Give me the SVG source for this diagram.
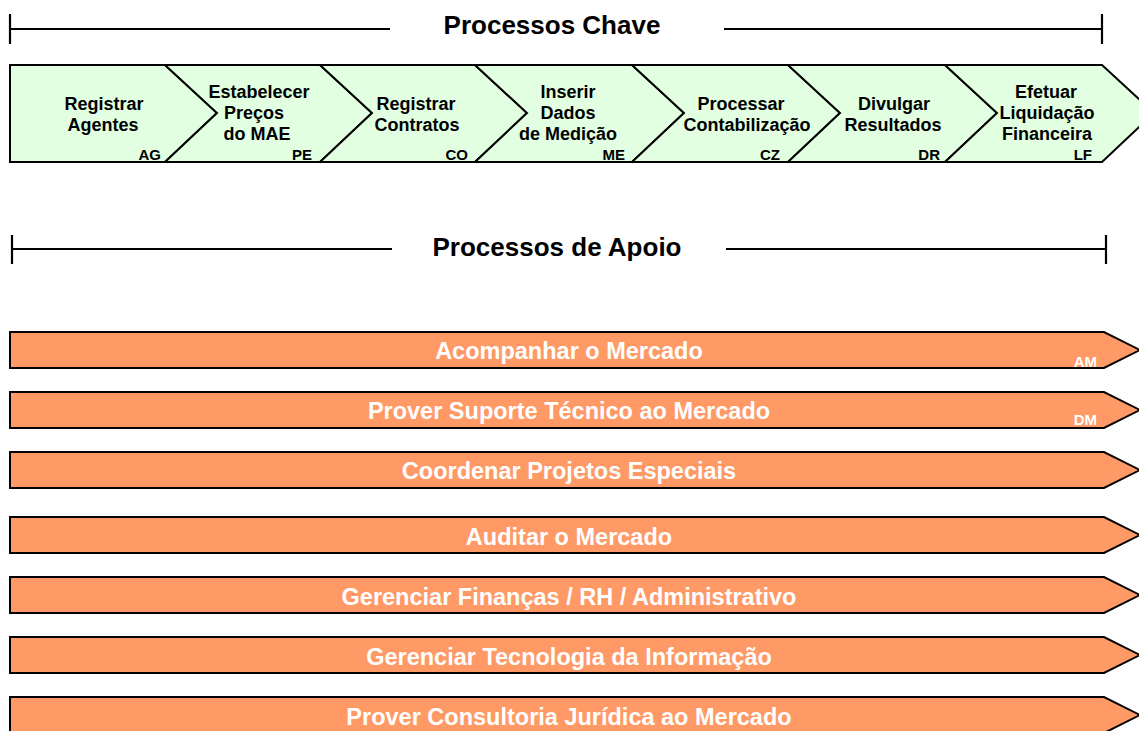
<svg xmlns="http://www.w3.org/2000/svg" width="1139" height="731" viewBox="0 0 1139 731">
<style>
.ln{stroke:#000;stroke-width:2.2;fill:none}
.title{font-family:"Liberation Sans",Arial,sans-serif;font-weight:bold;font-size:26px;fill:#000;text-anchor:middle}
.chev{fill:#E2FFE2;stroke:#000;stroke-width:2;stroke-linejoin:miter}
.ct{font-family:"Liberation Sans",Arial,sans-serif;font-weight:bold;font-size:18px;fill:#000;text-anchor:middle}
.code{font-family:"Liberation Sans",Arial,sans-serif;font-weight:bold;font-size:15px;fill:#000;text-anchor:end}
.bar{fill:#FF9966;stroke:#000;stroke-width:2}
.bt{font-family:"Liberation Sans",Arial,sans-serif;font-weight:bold;font-size:23.5px;fill:#fff;text-anchor:middle}
.bc{font-family:"Liberation Sans",Arial,sans-serif;font-weight:bold;font-size:15px;fill:#fff;text-anchor:end}
</style>
<rect width="1139" height="731" fill="#fff"/>
<g id="header-chave">
<path class="ln" d="M10,29 H390 M10,14 V44 M724,29 H1102 M1102,14 V44"/>
<text class="title" x="552" y="34">Processos Chave</text>
</g>
<g id="ag">
<polygon class="chev" points="10,65 165,65 217,113 165,162 10,162"/>
<text class="ct" x="104" y="110">Registrar</text>
<text class="ct" x="103" y="131">Agentes</text>
<text class="code" x="161" y="160">AG</text>
</g>
<g id="pe">
<polygon class="chev" points="165,65 320,65 372,113 320,162 165,162 217,113"/>
<text class="ct" x="259" y="98">Estabelecer</text>
<text class="ct" x="254" y="119">Preços</text>
<text class="ct" x="257" y="140">do MAE</text>
<text class="code" x="312" y="160">PE</text>
</g>
<g id="co">
<polygon class="chev" points="320,65 475,65 527,113 475,162 320,162 372,113"/>
<text class="ct" x="416" y="110">Registrar</text>
<text class="ct" x="417" y="131">Contratos</text>
<text class="code" x="468" y="160">CO</text>
</g>
<g id="me">
<polygon class="chev" points="475,65 632,65 684,113 632,162 475,162 527,113"/>
<text class="ct" x="568" y="98">Inserir</text>
<text class="ct" x="568" y="119">Dados</text>
<text class="ct" x="568" y="140">de Medição</text>
<text class="code" x="625" y="160">ME</text>
</g>
<g id="cz">
<polygon class="chev" points="632,65 788,65 840,113 788,162 632,162 684,113"/>
<text class="ct" x="741" y="110">Processar</text>
<text class="ct" x="747" y="131">Contabilização</text>
<text class="code" x="780" y="160">CZ</text>
</g>
<g id="dr">
<polygon class="chev" points="788,65 945,65 997,113 945,162 788,162 840,113"/>
<text class="ct" x="894" y="110">Divulgar</text>
<text class="ct" x="893" y="131">Resultados</text>
<text class="code" x="940" y="160">DR</text>
</g>
<g id="lf">
<polygon class="chev" points="945,65 1102,65 1154,113 1102,162 945,162 997,113"/>
<text class="ct" x="1046" y="98">Efetuar</text>
<text class="ct" x="1047" y="119">Liquidação</text>
<text class="ct" x="1047" y="140">Financeira</text>
<text class="code" x="1092" y="160">LF</text>
</g>
<g id="header-apoio">
<path class="ln" d="M12,249 H392 M12,235 V264 M726,249 H1106 M1106,235 V264"/>
<text class="title" x="557" y="256">Processos de Apoio</text>
</g>
<g id="am">
<polygon class="bar" points="10,332 1104,332 1140,350 1104,368 10,368"/>
<text class="bt" x="569" y="359">Acompanhar o Mercado</text>
<text class="bc" x="1097" y="367">AM</text>
</g>
<g id="dm">
<polygon class="bar" points="10,392 1104,392 1140,410 1104,428 10,428"/>
<text class="bt" x="569" y="419">Prover Suporte Técnico ao Mercado</text>
<text class="bc" x="1097" y="425">DM</text>
</g>
<g id="cpe">
<polygon class="bar" points="10,452 1104,452 1140,470 1104,488 10,488"/>
<text class="bt" x="569" y="479">Coordenar Projetos Especiais</text>
</g>
<g id="aud">
<polygon class="bar" points="10,517 1104,517 1140,535 1104,553 10,553"/>
<text class="bt" x="569" y="545">Auditar o Mercado</text>
</g>
<g id="fin">
<polygon class="bar" points="10,577 1104,577 1140,595 1104,613 10,613"/>
<text class="bt" x="569" y="605">Gerenciar Finanças / RH / Administrativo</text>
</g>
<g id="ti">
<polygon class="bar" points="10,637 1104,637 1140,655 1104,673 10,673"/>
<text class="bt" x="569" y="665">Gerenciar Tecnologia da Informação</text>
</g>
<g id="jur">
<polygon class="bar" points="10,697 1104,697 1140,715 1104,733 10,733"/>
<text class="bt" x="569" y="725">Prover Consultoria Jurídica ao Mercado</text>
</g>
</svg>
